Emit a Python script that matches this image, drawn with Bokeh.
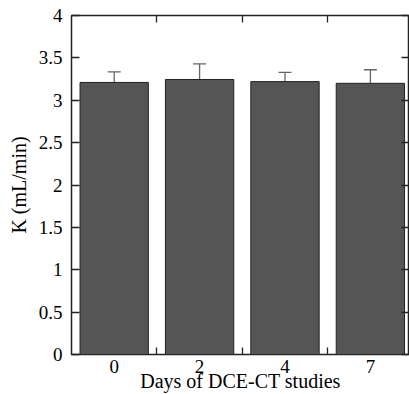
from bokeh.plotting import figure
from bokeh.models import (ColumnDataSource, Range1d, FixedTicker, LinearAxis,
                          Whisker, TeeHead)
from bokeh.embed import file_html
from bokeh.resources import INLINE

days = ["0", "2", "4", "7"]
k_mean = [3.21, 3.245, 3.22, 3.20]
k_sd = [0.125, 0.185, 0.11, 0.16]
y_ticks = [0, 0.5, 1, 1.5, 2, 2.5, 3, 3.5, 4]

pos = [i + 0.5 for i in range(len(days))]
bounds = [i + 1 for i in range(len(days) - 1)]
upper = [m + s for m, s in zip(k_mean, k_sd)]

src = ColumnDataSource(dict(x=pos, top=k_mean, upper=upper))

FONT = "Liberation Serif"

p = figure(width=409, height=394, output_backend="svg", toolbar_location=None,
           x_range=Range1d(0, 3.958), y_range=Range1d(0, 4),
           min_border_left=71, min_border_right=0, min_border_top=15,
           min_border_bottom=40, x_axis_location=None, y_axis_location=None)
p.grid.visible = False
p.outline_line_color = "#222222"
p.outline_line_width = 1.5
p.background_fill_color = "white"
p.border_fill_color = "white"

p.vbar(x="x", top="top", width=0.8, bottom=0, source=src,
       fill_color="#555555", line_color="#222222", line_width=1)

w = Whisker(source=src, base="x", lower="top", upper="upper",
            line_color="#666666", line_width=1.3,
            upper_head=TeeHead(size=13, line_color="#666666", line_width=1.3),
            lower_head=None)
p.add_layout(w)

label_map = {float(x): d for x, d in zip(pos, days)}

xb = LinearAxis(ticker=FixedTicker(ticks=pos, minor_ticks=bounds),
                major_label_overrides=label_map,
                axis_label="Days of DCE-CT studies")
xa = LinearAxis(ticker=FixedTicker(ticks=[], minor_ticks=bounds))
for ax in (xb, xa):
    ax.axis_line_color = None
    ax.major_tick_line_color = None
    ax.minor_tick_line_color = "#222222"
    ax.minor_tick_line_width = 1.3
    ax.minor_tick_in = 7
    ax.minor_tick_out = 0
    ax.major_tick_in = 0
    ax.major_tick_out = 0
xb.major_label_text_font = FONT
xb.major_label_text_font_size = "19px"
xb.major_label_text_color = "black"
xb.major_label_standoff = 5
xb.axis_label_text_font = FONT
xb.axis_label_text_font_size = "20px"
xb.axis_label_text_font_style = "normal"
xb.axis_label_text_color = "black"
xb.axis_label_standoff = -6
xa.major_label_standoff = 0
p.add_layout(xb, "below")
p.add_layout(xa, "above")

yl = LinearAxis(ticker=FixedTicker(ticks=y_ticks), axis_label="K (mL/min)")
yr = LinearAxis(ticker=FixedTicker(ticks=[], minor_ticks=y_ticks))
yl.axis_line_color = None
yl.major_tick_line_color = "#222222"
yl.major_tick_line_width = 1.3
yl.major_tick_in = 8
yl.major_tick_out = 0
yl.minor_tick_line_color = None
yr.axis_line_color = None
yr.major_tick_line_color = None
yr.minor_tick_line_color = "#222222"
yr.minor_tick_line_width = 1.3
yr.minor_tick_in = 8
yr.minor_tick_out = 0
yr.major_label_standoff = 0
yl.major_label_text_font = FONT
yl.major_label_text_font_size = "19px"
yl.major_label_text_color = "black"
yl.major_label_standoff = 9
yl.axis_label_text_font = FONT
yl.axis_label_text_font_size = "20px"
yl.axis_label_text_font_style = "normal"
yl.axis_label_text_color = "black"
yl.axis_label_standoff = 6
p.add_layout(yl, "left")
p.add_layout(yr, "right")

open("out.html", "w").write(file_html(p, INLINE))
